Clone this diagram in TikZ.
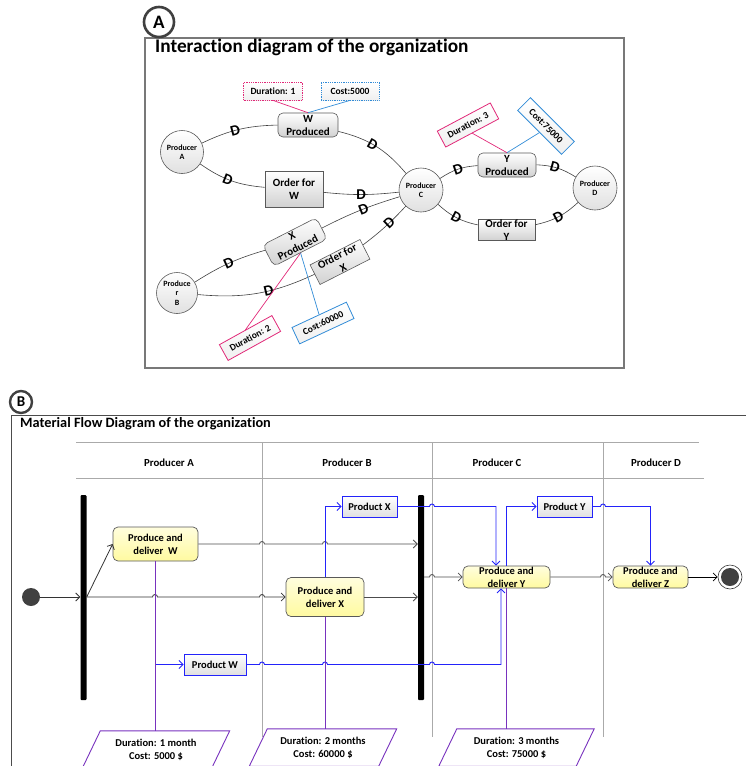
\documentclass[tikz,border=0pt]{standalone}
\usepackage{fontspec}
\setmainfont{Carlito}[Ligatures=CommonOff]
\usetikzlibrary{arrows.meta}

\definecolor{tagpink}{RGB}{225,40,120}
\definecolor{tagblue}{RGB}{50,140,215}
\definecolor{flowblue}{RGB}{35,35,250}
\definecolor{flowpurple}{RGB}{120,50,190}
\definecolor{framegray}{RGB}{120,120,120}
\definecolor{lanegray}{RGB}{170,170,170}
\definecolor{actfill}{RGB}{255,250,160}

\newcommand{\fsz}[2]{\fontsize{#1}{#2}\selectfont}

\tikzset{
  frameline/.style={draw=framegray, line width=1.1pt},
  badge/.style={circle, draw=black!75, line width=2.6pt, fill=white, inner sep=0pt, font=\bfseries\fsz{19}{19}},
  pcirc/.style={circle, draw=black!65, line width=0.6pt, top color=white, bottom color=black!12,
    minimum size=43pt, inner sep=0pt, align=center, font=\bfseries\fsz{8}{9.5}},
  gbox/.style={draw=black!65, line width=0.6pt, top color=white, bottom color=black!18,
    align=center, inner sep=0pt, font=\bfseries\fsz{11}{13}},
  rgbox/.style={gbox, rounded corners=5pt},
  link/.style={draw=black!75, line width=0.6pt},
  dmark/.style={sloped, inner sep=0pt, font=\bfseries\fsz{15}{15}},
  tag/.style={draw, line width=0.8pt, top color=white, bottom color=black!6, inner sep=0pt,
    minimum height=18pt, font=\bfseries\fsz{9.5}{10}},
  pinktag/.style={tag, draw=tagpink},
  bluetag/.style={tag, draw=tagblue},
  lane/.style={draw=lanegray, line width=1pt},
  lanehead/.style={font=\bfseries\fsz{10.8}{12}},
  act/.style={draw=black!65, line width=0.7pt, rounded corners=5pt, top color=actfill!35,
    bottom color=actfill, align=center, inner sep=0pt, font=\bfseries\fsz{10.5}{13}},
  prod/.style={draw=flowblue, line width=0.9pt, top color=white, bottom color=black!12,
    inner sep=0pt, minimum height=21pt, font=\bfseries\fsz{10.5}{12}},
  bar/.style={fill=black, rounded corners=1pt, minimum width=6pt, minimum height=205pt, inner sep=0pt},
  tip/.style={-{Straight Barb[length=4pt,width=8pt]}},
  kflow/.style={draw=black!80, line width=0.8pt, tip},
  bflow/.style={draw=flowblue, line width=0.9pt},
  pflow/.style={draw=flowpurple, line width=0.9pt},
  durbox/.style={inner sep=0pt, minimum height=37pt},
  durtext/.style={inner sep=0pt, align=center, font=\bfseries\fsz{10.5}{13}},
  durline/.style={draw=flowpurple, line width=0.9pt, fill=white},
}

\begin{document}
\begin{tikzpicture}[x=1pt, y=-1pt]
\useasboundingbox (0,0) rectangle (746,766);

%% ---------------- Interaction diagram ----------------
\draw[frameline] (145,38) rectangle (624,368);
\node[badge, minimum size=30pt] (badgeA) at (159,22) {A};
\node[anchor=base west, inner sep=0pt, font=\bfseries\fsz{19.3}{19.3}] (titleA) at (155,52.5)
  {Interaction diagram of the organization};

\node[pcirc] (pa) at (182,152) {Producer\\A};
\node[pcirc, minimum size=41pt] (pb) at (177,293) {Produce\\r\\B};
\node[pcirc, minimum size=44pt] (pc) at (421,190) {Producer\\C};
\node[pcirc, minimum size=44pt] (pd) at (595,188) {Producer\\D};

\node[rgbox, minimum width=60pt, minimum height=24pt] (wp) at (308,125) {W\\Produced};
\node[gbox, minimum width=58pt, minimum height=36pt] (ow) at (294,189) {Order for\\W};
\node[rgbox, minimum width=60pt, minimum height=24pt, rotate=27] (xp) at (295,242) {X\\Produced};
\node[gbox, minimum width=56pt, minimum height=22pt, rotate=27] (ox) at (340,262) {Order for\\X};
\node[rgbox, minimum width=58pt, minimum height=24pt] (yp) at (507,165) {Y\\Produced};
\node[gbox, minimum width=57pt, minimum height=20pt] (oy) at (506.5,230) {Order for\\Y};

% transaction links
\draw[link] (pa) to[bend left=12] node[dmark, pos=.45] {D} (wp);
\draw[link] (wp) to[bend left=18] node[dmark, pos=.45] {D} (pc);
\draw[link] (pa) to[bend right=15] node[dmark, pos=.45] {D} (ow);
\draw[link] (ow) to[bend right=6] node[dmark, pos=.5] {D} (pc);
\draw[link] (pc) to[bend right=5] node[dmark, pos=.45] {D} (xp);
\draw[link] (pc) to[bend left=5] node[dmark, pos=.4] {D} (ox);
\draw[link] (pb) to[bend left=8] node[dmark, pos=.5] {D} (xp);
\draw[link] (pb) to[bend right=15] node[dmark, pos=.6] {D} (ox);
\draw[link] (pc) to[bend left=15] node[dmark, pos=.5] {D} (yp);
\draw[link] (yp) to[bend left=15] node[dmark, pos=.45] {D} (pd);
\draw[link] (pc) to[bend right=15] node[dmark, pos=.5] {D} (oy);
\draw[link] (oy) to[bend right=15] node[dmark, pos=.5] {D} (pd);

% duration and cost tags
\node[pinktag, densely dotted, minimum width=59pt] (dur1) at (273,91) {Duration: 1};
\node[bluetag, densely dotted, minimum width=58pt] (cost1) at (350,91) {Cost:5000};
\node[pinktag, minimum width=60pt, rotate=29] (dur2) at (250,338) {Duration: 2};
\node[bluetag, minimum width=60pt, rotate=25] (cost2) at (323,323) {Cost:60000};
\node[pinktag, minimum width=60pt, rotate=28] (dur3) at (468,125) {Duration: 3};
\node[bluetag, minimum width=62pt, rotate=-45] (cost3) at (546,126) {Cost:75000};

\draw[tagpink, line width=0.7pt] (dur1.south) -- (wp.north);
\draw[tagblue, line width=0.7pt] (cost1.south) -- (wp.north);
\draw[tagpink, line width=0.7pt] (dur2.north) -- (xp.south);
\draw[tagblue, line width=0.7pt] (cost2.north) -- (xp.south);
\draw[tagpink, line width=0.7pt] (dur3.south) -- (yp.north);
\draw[tagblue, line width=0.7pt] (cost3.south) -- (yp.north);

%% ---------------- Material flow diagram ----------------
\node[badge, minimum size=22pt, line width=2.4pt, font=\bfseries\fsz{15}{15}] (badgeB) at (21,402) {B};
\draw[frameline, draw=black!70, line width=0.9pt] (11,766) -- (11,415) -- (746,415);
\node[anchor=base west, inner sep=0pt, font=\bfseries\fsz{14.3}{14.3}] (titleB) at (20,427)
  {Material Flow Diagram of the organization};

% swimlanes
\draw[lane] (76,442) -- (699,442);
\draw[lane] (76,478) -- (704,478);
\draw[lane] (262,442) -- (262,737);
\draw[lane] (432,442) -- (432,737);
\draw[lane] (603,442) -- (603,737);
\node[lanehead] (laneA) at (169,463) {Producer A};
\node[lanehead] (laneB) at (347,463) {Producer B};
\node[lanehead] (laneC) at (497,463) {Producer C};
\node[lanehead] (laneD) at (656,463) {Producer D};

% activities and objects
\node[circle, fill=black!75, minimum size=18pt, inner sep=0pt] (start) at (31,597) {};
\node[bar] (bar1) at (83.5,597.5) {};
\node[bar] (bar2) at (421,597.5) {};
\node[act, minimum width=85pt, minimum height=34pt] (pw) at (155.5,544) {Produce and\\deliver\ \ W};
\node[act, minimum width=78pt, minimum height=39pt] (px) at (325,597) {Produce and\\deliver X};
\node[act, minimum width=87pt, minimum height=22pt] (py) at (506.5,577) {Produce and\\deliver Y};
\node[act, minimum width=75pt, minimum height=22pt] (pz) at (650.5,577) {Produce and\\deliver Z};
\node[prod, minimum width=55pt] (prx) at (369.5,506.5) {Product X};
\node[prod, minimum width=55pt] (pry) at (564.5,506.5) {Product Y};
\node[prod, minimum width=62pt] (prw) at (215,664.5) {Product W};
\node[circle, draw=black!80, line width=0.6pt, minimum size=24pt, inner sep=0pt] (endn) at (730,577) {};
\fill[black!75] (endn.center) circle[radius=9pt];

% duration / cost notes: slanted boxes around a text node
\node[durbox, minimum width=129pt] (d1) at (156,749.5) {};
\node[durbox, minimum width=129pt] (d2) at (323,747.5) {};
\node[durbox, minimum width=137pt] (d3) at (516.5,747.5) {};
\foreach \d in {d1,d2,d3}{
  \draw[durline] ([xshift=9pt]\d.north west) -- ([xshift=9pt]\d.north east)
     -- ([xshift=-9pt]\d.south east) -- ([xshift=-9pt]\d.south west) -- cycle;
}
\node[durtext] (d1t) at (d1) {Duration: 1 month\\Cost: 5000 \$};
\node[durtext] (d2t) at (d2) {Duration: 2 months\\Cost: 60000 \$};
\node[durtext] (d3t) at (d3) {Duration: 3 months\\Cost: 75000 \$};

% control flow
\draw[kflow] (start) -- (bar1.west |- start);
\draw[kflow] (bar1.east |- start) -- (pw.west);
\draw[kflow] (bar1.east |- start)
   -- (152.5,597) arc[start angle=180, end angle=0, radius=2.5pt]
   -- (259.5,597) arc[start angle=180, end angle=0, radius=2.5pt]
   -- (px.west);
\draw[kflow, draw=black!70] (pw.east)
   -- (259.5,544) arc[start angle=180, end angle=0, radius=2.5pt]
   -- (322.5,544) arc[start angle=180, end angle=0, radius=2.5pt]
   -- (bar2.west |- pw.east);
\draw[kflow, draw=black!70] (px.east) -- (bar2.west |- px.east);
\draw[kflow, draw=black!70] (bar2.east |- py.west)
   -- (429.5,577) arc[start angle=180, end angle=0, radius=2.5pt]
   -- (py.west);
\draw[kflow, draw=black!70] (py.east)
   -- (600.5,577) arc[start angle=180, end angle=0, radius=2.5pt]
   -- (pz.west);
\draw[kflow, draw=black] (pz.east) -- (endn.west);

% object flow
\draw[bflow, tip] (px.north) -- (px.north |- prx.west) -- (prx.west);
\draw[bflow, tip] (prx.east)
   -- (429.5,506.5) arc[start angle=180, end angle=0, radius=2.5pt]
   -- (496,506.5) -- (496,506.5 |- py.north);
\draw[bflow, tip] (py.north) -- (py.north |- pry.west) -- (pry.west);
\draw[bflow, tip] (pry.east)
   -- (600.5,506.5) arc[start angle=180, end angle=0, radius=2.5pt]
   -- (650.5,506.5) -- (pz.north);
\draw[bflow, tip] (pw.south |- prw.west) -- (prw.west);
\draw[bflow, tip] (prw.east)
   -- (259.5,664.5) arc[start angle=180, end angle=0, radius=2.5pt]
   -- (322.5,664.5) arc[start angle=180, end angle=0, radius=2.5pt]
   -- (429.5,664.5) arc[start angle=180, end angle=0, radius=2.5pt]
   -- (501,664.5) -- (501,664.5 |- py.south);

% notes attached to activities
\draw[pflow] (pw.south) -- (pw.south |- d1.north);
\draw[pflow] (px.south) -- (px.south |- d2.north);
\draw[pflow] (py.south) -- (py.south |- d3.north);
\end{tikzpicture}
\end{document}
